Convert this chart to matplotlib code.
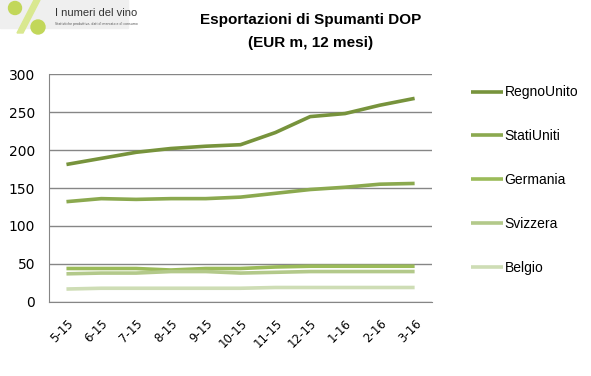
import numpy as np
import matplotlib.pyplot as plt
from matplotlib.patches import Circle, Polygon, Rectangle

# dati
mesi = ['5-15', '6-15', '7-15', '8-15', '9-15', '10-15', '11-15', '12-15', '1-16', '2-16', '3-16']
regno_unito = [181, 189, 197, 202, 205, 207, 223, 244, 248, 259, 268]
stati_uniti = [132, 136, 135, 136, 136, 138, 143, 148, 151, 155, 156]
germania = [44, 44, 44, 42, 44, 44, 46, 47, 47, 47, 47]
svizzera = [37, 38, 38, 40, 40, 38, 39, 40, 40, 40, 40]
belgio = [17, 18, 18, 18, 18, 18, 19, 19, 19, 19, 19]

serie = ['RegnoUnito', 'StatiUniti', 'Germania', 'Svizzera', 'Belgio']
valori = [regno_unito, stati_uniti, germania, svizzera, belgio]
colori = ['#77933C', '#8BA94F', '#9BBB59', '#B3C98A', '#CEDDB5']

fig = plt.figure(figsize=(5.91, 3.76), dpi=100)
ax = fig.add_axes([0.083, 0.197, 0.648, 0.606])

x = np.arange(len(mesi))
for nome, v, c in zip(serie, valori, colori):
    ax.plot(x, v, color=c, lw=2.6, label=nome, solid_capstyle='butt')

ax.set_xlim(-0.5, len(mesi) - 0.5)
ax.set_ylim(0, 300)
ax.set_yticks(range(0, 301, 50))
ax.set_xticks(x)
ax.set_xticklabels(mesi, rotation=45, ha='right', rotation_mode='anchor', fontsize=8.5)
ax.tick_params(axis='y', labelsize=10, length=0, pad=10)
ax.tick_params(axis='x', length=0, pad=11)
ax.grid(axis='y', color='#868686', lw=1)
ax.set_axisbelow(True)
for s in ['top', 'right']:
    ax.spines[s].set_visible(False)
ax.spines['left'].set_color('#868686')
ax.spines['bottom'].set_color('#868686')

leg = ax.legend(loc='upper left', bbox_to_anchor=(1.07, 1.005), frameon=False,
                labelspacing=2.15, handlelength=2.3, handletextpad=0.1,
                prop={'family': 'Liberation Sans', 'size': 10})

fig.text(0.525, 0.947, 'Esportazioni di Spumanti DOP', ha='center', va='center',
         fontsize=11, fontweight='bold', family='Liberation Sans')
fig.text(0.525, 0.886, '(EUR m, 12 mesi)', ha='center', va='center',
         fontsize=11, fontweight='bold', family='Liberation Sans')

# logo (coordinate in pixel / 100 = pollici)
px = fig.dpi_scale_trans
H = 3.76
fig.patches.append(Rectangle((0, H - 0.28), 1.28, 0.28, transform=px,
                             color='#EFEFEF', zorder=0))
fig.patches.append(Polygon([[0.17, H - 0.33], [0.23, H - 0.33], [0.40, H], [0.34, H]],
                           closed=True, transform=px, color='#D9E890'))
fig.patches.append(Circle((0.15, H - 0.08), 0.065, transform=px, color='#C2D75A'))
fig.patches.append(Circle((0.38, H - 0.27), 0.07, transform=px, color='#C2D75A'))
fig.text(0.55 / 5.91, 1 - 0.13 / H, 'I numeri del vino', fontsize=8, color='#333333',
         va='center', family='Liberation Sans')
fig.text(0.55 / 5.91, 1 - 0.235 / H, 'Statistiche produttive, dati di mercato e di consumo',
         fontsize=2.3, color='#555555', va='center')

fig.savefig('out.png', dpi=100)
